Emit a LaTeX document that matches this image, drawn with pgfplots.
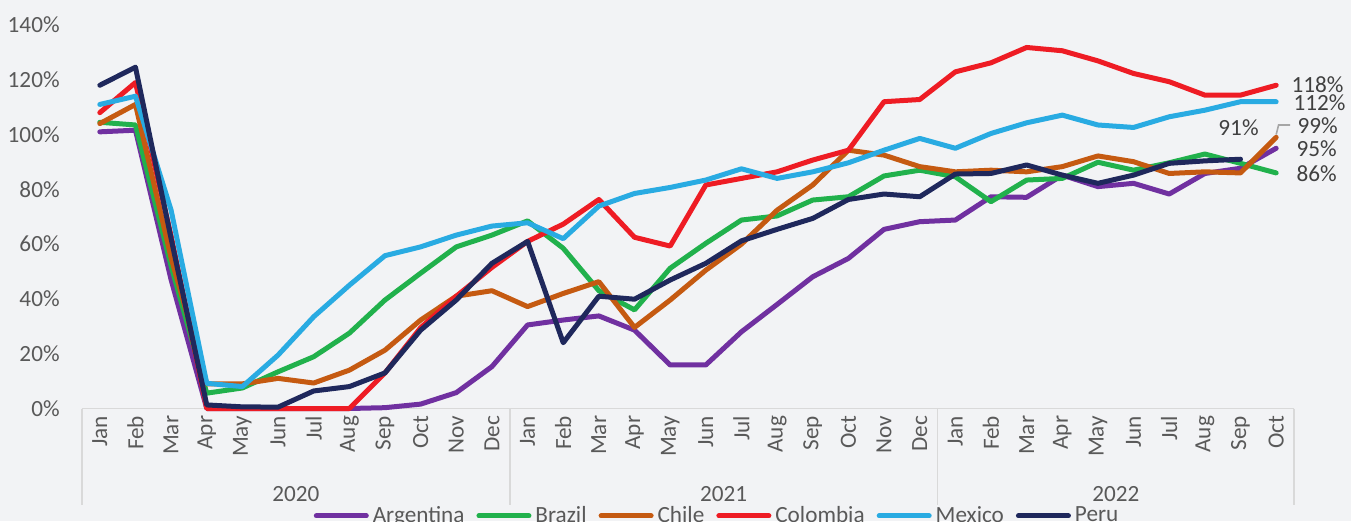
\documentclass[border=0pt]{standalone}
\usepackage{pgfplots}
\pgfplotsset{compat=1.18}
\usepackage{fontspec}
\setmainfont{Carlito}
\definecolor{bg}{RGB}{242,243,245}
\definecolor{arg}{RGB}{112,48,160}
\definecolor{bra}{RGB}{33,177,76}
\definecolor{chi}{RGB}{197,90,17}
\definecolor{col}{RGB}{238,28,36}
\definecolor{mex}{RGB}{41,171,226}
\definecolor{per}{RGB}{31,40,92}
\definecolor{tickcol}{RGB}{89,89,89}
\definecolor{lblcol}{RGB}{64,64,64}
\definecolor{linecol}{RGB}{217,217,217}
\newcommand{\fs}{\fontsize{11.6}{13.5}\selectfont}
\begin{document}
\fs
\begin{tikzpicture}
\useasboundingbox (-41pt,-56.25pt) rectangle (634.5pt,204.25pt);
\fill[bg] (-41pt,-56.25pt) rectangle (634.5pt,204.25pt);
\clip (-41pt,-56.25pt) rectangle (634.5pt,204.25pt);
\begin{axis}[
  at={(0,0)}, anchor=south west, scale only axis,
  width=606pt, height=191.75pt,
  xmin=-0.5, xmax=33.5, ymin=0, ymax=140,
  axis x line*=bottom, axis y line*=left,
  x axis line style={draw=linecol, line width=0.75pt, -},
  y axis line style={draw=none},
  major tick length=0pt,
  xtick={0,...,33},
  xticklabels={Jan,Feb,Mar,Apr,May,Jun,Jul,Aug,Sep,Oct,Nov,Dec,Jan,Feb,Mar,Apr,May,Jun,Jul,Aug,Sep,Oct,Nov,Dec,Jan,Feb,Mar,Apr,May,Jun,Jul,Aug,Sep,Oct},
  xticklabel style={rotate=90, anchor=east, inner sep=0pt, text=tickcol, font=\fs},
  xticklabel shift=3.5pt,
  ytick={0,20,...,140},
  yticklabels={0\%,20\%,40\%,60\%,80\%,100\%,120\%,140\%},
  yticklabel style={inner sep=0pt, text=tickcol, font=\fs},
  yticklabel shift=11pt,
  clip=false,
  legend columns=6,
  legend style={at={(0.5248,-0.28)}, anchor=center, draw=none, fill=none,
    font=\fs, text=tickcol,
    /tikz/every even column/.append style={column sep=4pt}},
  legend image code/.code={\draw[#1, line cap=round] (0pt,0pt) -- (25pt,0pt);},
  every axis plot/.append style={line width=2.5pt, line join=round, line cap=round},
]
\addplot[arg] coordinates {(0,101) (1,101.6) (2,47) (3,0) (4,0) (5,0) (6,0) (7,0) (8,0.3) (9,1.6) (10,5.8) (11,15.3)
 (12,30.5) (13,32.3) (14,33.8) (15,28.6) (16,15.9) (17,15.9) (18,28) (19,38) (20,48.1) (21,54.8) (22,65.4) (23,68.2)
 (24,68.8) (25,77.3) (26,77.1) (27,85.2) (28,81) (29,82.2) (30,78.3) (31,85.8) (32,87.7) (33,95)};
\addlegendentry{Argentina}
\addplot[bra] coordinates {(0,104.5) (1,103.5) (2,52) (3,5.6) (4,7.5) (5,13.4) (6,18.9) (7,27.5) (8,39.6) (9,49.4) (10,59) (11,63.3)
 (12,68.5) (13,58.5) (14,43) (15,36) (16,51.2) (17,60.3) (18,68.8) (19,70.3) (20,76.1) (21,77.3) (22,84.9) (23,87)
 (24,84.6) (25,75.5) (26,83.4) (27,84) (28,89.9) (29,87) (30,89.7) (31,92.9) (32,89.5) (33,86)};
\addlegendentry{Brazil}
\addplot[chi] coordinates {(0,104) (1,111) (2,55) (3,9) (4,9) (5,11) (6,9.3) (7,14) (8,21.3) (9,32.3) (10,41) (11,43)
 (12,37.2) (13,42) (14,46.3) (15,29.6) (16,39.6) (17,50.5) (18,60) (19,72.4) (20,81.6) (21,94.3) (22,92.5) (23,88.3)
 (24,86.4) (25,87) (26,86.4) (27,88.3) (28,92.2) (29,90.1) (30,85.8) (31,86.4) (32,86) (33,99)};
\addlegendentry{Chile}
\addplot[col] coordinates {(0,108) (1,119) (2,63) (3,0) (4,0) (5,0) (6,0) (7,0) (8,13) (9,29.5) (10,41) (11,51.5)
 (12,61) (13,67.3) (14,76.3) (15,62.5) (16,59.3) (17,81.6) (18,84) (19,86.4) (20,90.7) (21,94.3) (22,112) (23,112.8)
 (24,122.9) (25,126.2) (26,131.8) (27,130.6) (28,126.9) (29,122.3) (30,119.3) (31,114.4) (32,114.4) (33,118)};
\addlegendentry{Colombia}
\addplot[mex] coordinates {(0,111) (1,114) (2,72.4) (3,9.2) (4,8) (5,19.5) (6,33.5) (7,45) (8,55.8) (9,59) (10,63.3) (11,66.6)
 (12,67.8) (13,62) (14,73.9) (15,78.5) (16,80.7) (17,83.4) (18,87.5) (19,84) (20,86.4) (21,89.7) (22,94.3) (23,98.6)
 (24,95) (25,100.4) (26,104.3) (27,107.1) (28,103.5) (29,102.6) (30,106.5) (31,108.9) (32,112) (33,112)};
\addlegendentry{Mexico}
\addplot[per] coordinates {(0,118) (1,124.6) (2,62) (3,1.3) (4,0.6) (5,0.5) (6,6.4) (7,8) (8,13) (9,28.6) (10,39.6) (11,53)
 (12,61) (13,24) (14,41) (15,39.9) (16,46.9) (17,53) (18,61.2) (19,65.4) (20,69.4) (21,76.3) (22,78.3) (23,77.3)
 (24,85.6) (25,85.8) (26,88.9) (27,85.2) (28,82.2) (29,85.2) (30,89.5) (31,90.4) (32,91)};
\addlegendentry{Peru}
% category separators and years
\draw[linecol, line width=0.75pt] (axis cs:-0.5,0) -- ([yshift=-48pt]axis cs:-0.5,0);
\draw[linecol, line width=0.75pt] (axis cs:11.5,0) -- ([yshift=-48pt]axis cs:11.5,0);
\draw[linecol, line width=0.75pt] (axis cs:23.5,0) -- ([yshift=-48pt]axis cs:23.5,0);
\draw[linecol, line width=0.75pt] (axis cs:33.5,0) -- ([yshift=-48pt]axis cs:33.5,0);
\node[text=tickcol, yshift=-42.75pt] at (axis cs:5.5,0) {2020};
\node[text=tickcol, yshift=-42.75pt] at (axis cs:17.5,0) {2021};
\node[text=tickcol, yshift=-42.75pt] at (axis cs:28.5,0) {2022};
% data labels
\node[anchor=west, inner sep=0pt, text=lblcol, xshift=7.5pt] at (axis cs:33,118.4) {118\%};
\node[anchor=west, inner sep=0pt, text=lblcol, xshift=8.5pt] at (axis cs:33,111.6) {112\%};
\node[anchor=west, inner sep=0pt, text=lblcol, xshift=10.5pt] at (axis cs:33,103.1) {99\%};
\node[anchor=west, inner sep=0pt, text=lblcol, xshift=10pt] at (axis cs:33,95) {95\%};
\node[anchor=west, inner sep=0pt, text=lblcol, xshift=10pt] at (axis cs:33,85.6) {86\%};
\node[inner sep=0pt, text=lblcol, xshift=-1pt] at (axis cs:32,102.4) {91\%};
\draw[gray!70, line width=0.8pt] (axis cs:33,100) -- ([xshift=1.2pt]axis cs:33,103.5) -- ([xshift=7pt]axis cs:33,103.5);
\end{axis}
\end{tikzpicture}
\end{document}
